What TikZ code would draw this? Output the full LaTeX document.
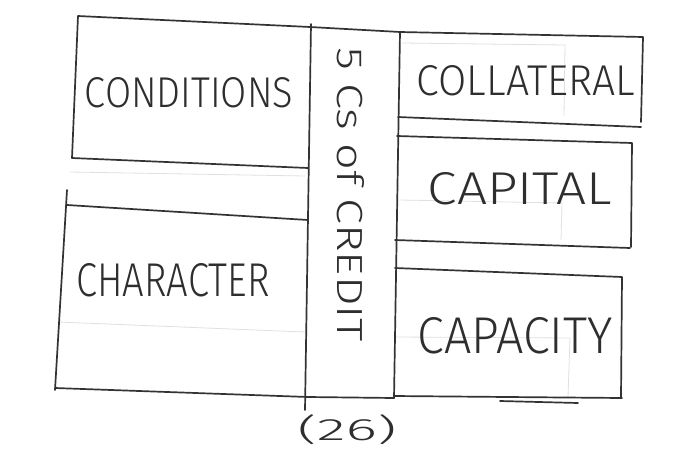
\documentclass[tikz,border=0pt]{standalone}
\usepackage{fontspec}
\setmainfont{Fira Sans}[UprightFont={* Light}]
\usepackage{graphicx}
\tikzset{
  pen/.style={line width=1.7pt, draw=black!80, line cap=round, line join=round},
  faint/.style={line width=0.8pt, draw=black!12},
  word/.style={inner sep=0pt, text=black!82}
}
\begin{document}
\begin{tikzpicture}[x=1pt,y=-1pt]
\useasboundingbox[fill=white] (0,0) rectangle (674,466);

% faint ruled lines showing through the paper
\draw[faint] (70,172) -- (305,176);
\draw[faint] (58,322) -- (305,332);
\draw[faint] (402,43) -- (565,45) -- (564,116);
\draw[faint] (400,200) -- (562,203) -- (561,240);
\draw[faint] (395,337) -- (570,338) -- (568,397);

% Conditions box
\draw[pen] (72,158) -- (78,16) -- (310,27);
\draw[pen] (72,158) -- (308,168);

% centre column
\draw[pen] (311,24) -- (305,410);
\draw[pen] (310,27) -- (400,32);
\draw[pen] (400,32) -- (394,398);

% Collateral box
\draw[pen] (400,32) -- (643,37) -- (641,122);
\draw[pen] (398,117) -- (641,127);

% Capital box
\draw[pen] (397,136) -- (632,143) -- (631,247);
\draw[pen] (395,240) -- (630,248);

% Capacity box
\draw[pen] (395,268) -- (622,277) -- (621,397);
\draw[pen] (394,396) -- (622,398);
\draw[pen] (500,401) -- (578,403);

% Character box
\draw[pen] (67,190) -- (55,390);
\draw[pen] (67,205) -- (308,220);
\draw[pen] (55,388) -- (308,397) -- (394,398);

% labels
\node[word] (conditions) at (189,93) {\resizebox{208pt}{30pt}{CONDITIONS}};
\node[word] (collateral) at (526,81) {\resizebox{218pt}{30pt}{COLLATERAL}};
\node[word] (capital) at (520,189) {\resizebox{184pt}{32pt}{CAPITAL}};
\node[word] (capacity) at (515,336) {\resizebox{195pt}{36pt}{CAPACITY}};
\node[word] (character) at (173,280) {\resizebox{193pt}{33pt}{CHARACTER}};
\node[word, rotate=-90] (title) at (351,195) {\resizebox{294pt}{27pt}{5 Cs of CREDIT}};
\node[word] (page) at (347,430) {\resizebox*{99pt}{30pt}{(26)}};
\end{tikzpicture}
\end{document}
